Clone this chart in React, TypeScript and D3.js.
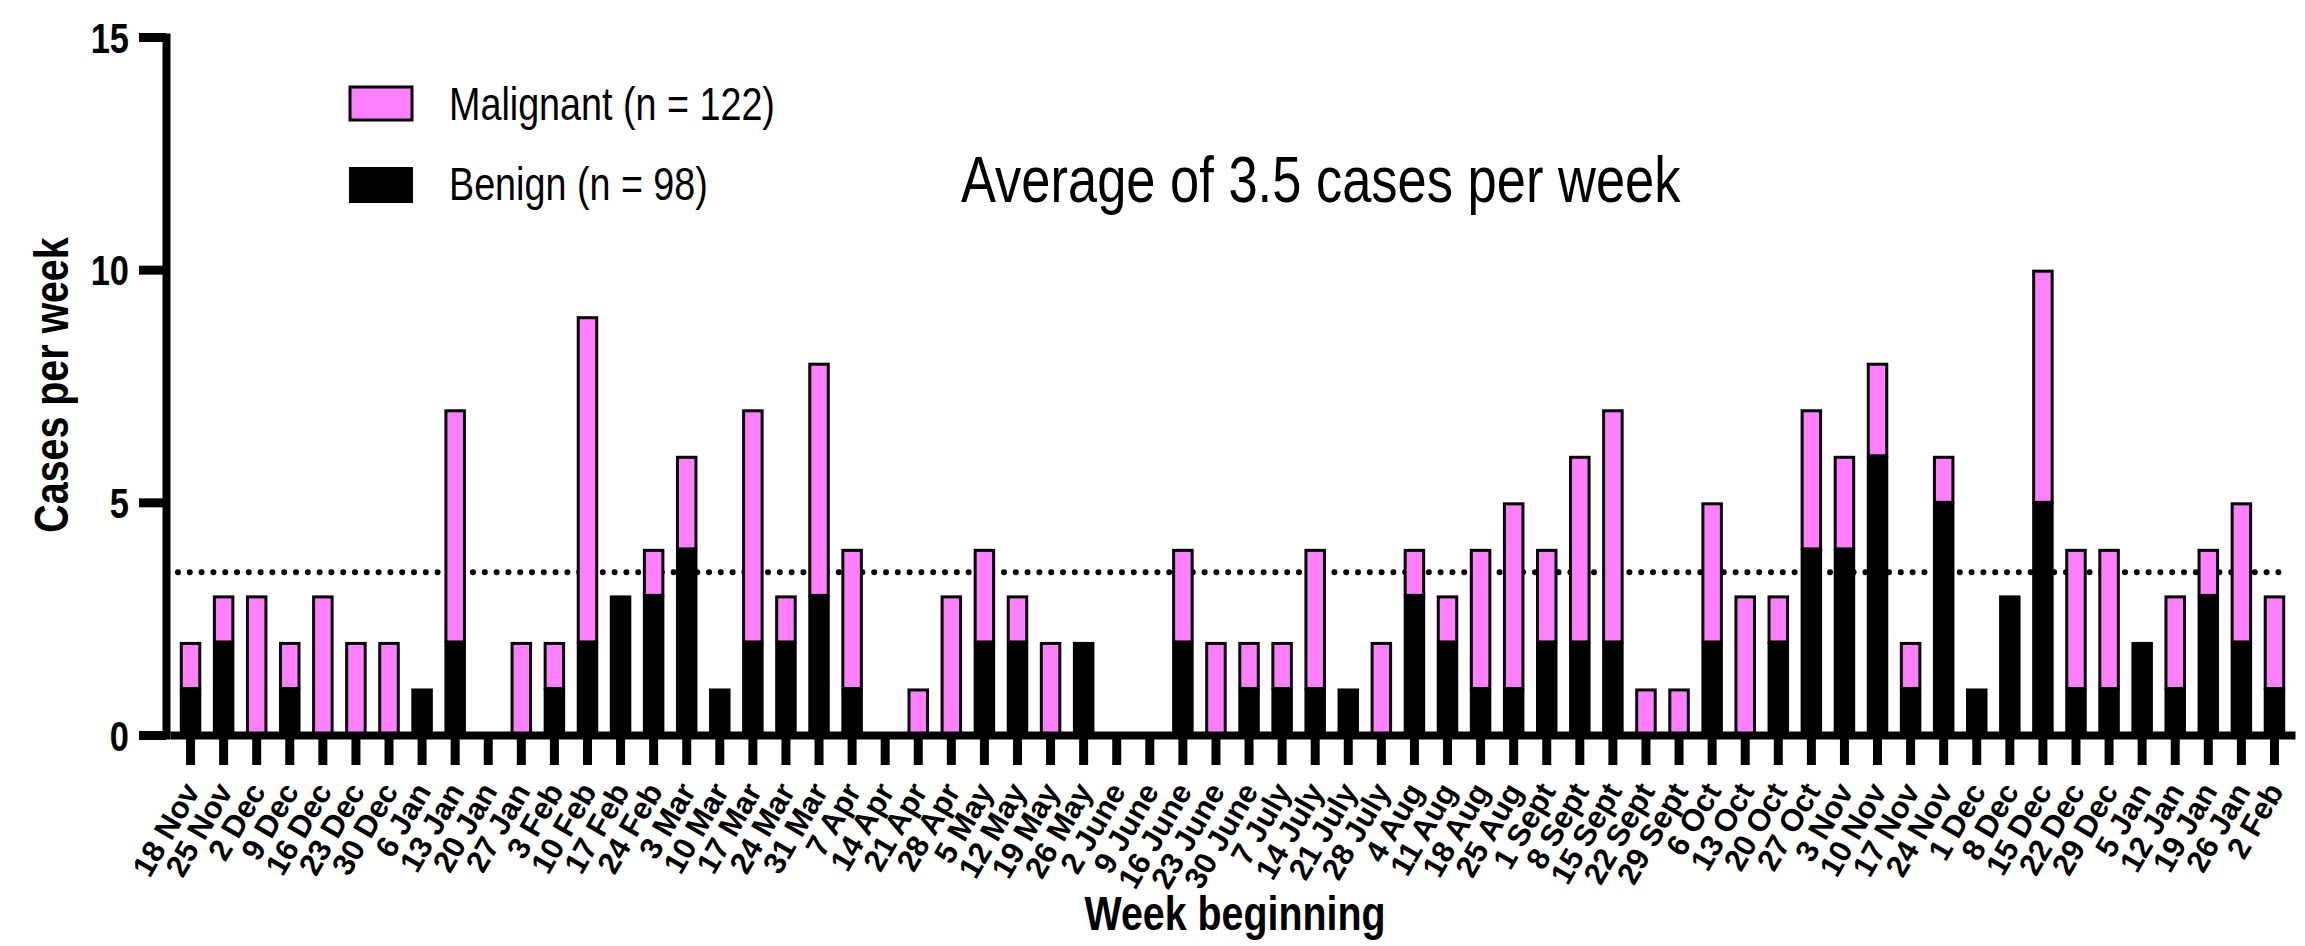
import React, { useRef, useEffect } from "react";
import * as d3 from "d3";

const weeks = [
  "18 Nov", "25 Nov", "2 Dec", "9 Dec", "16 Dec", "23 Dec", "30 Dec", "6 Jan", "13 Jan", "20 Jan",
  "27 Jan", "3 Feb", "10 Feb", "17 Feb", "24 Feb", "3 Mar", "10 Mar", "17 Mar", "24 Mar", "31 Mar",
  "7 Apr", "14 Apr", "21 Apr", "28 Apr", "5 May", "12 May", "19 May", "26 May", "2 June", "9 June",
  "16 June", "23 June", "30 June", "7 July", "14 July", "21 July", "28 July", "4 Aug", "11 Aug", "18 Aug",
  "25 Aug", "1 Sept", "8 Sept", "15 Sept", "22 Sept", "29 Sept", "6 Oct", "13 Oct", "20 Oct", "27 Oct",
  "3 Nov", "10 Nov", "17 Nov", "24 Nov", "1 Dec", "8 Dec", "15 Dec", "22 Dec", "29 Dec", "5 Jan",
  "12 Jan", "19 Jan", "26 Jan", "2 Feb",
];

const benign = [
  1, 2, 0, 1, 0, 0, 0, 1, 2, 0,
  0, 1, 2, 3, 3, 4, 1, 2, 2, 3,
  1, 0, 0, 0, 2, 2, 0, 2, 0, 0,
  2, 0, 1, 1, 1, 1, 0, 3, 2, 1,
  1, 2, 2, 2, 0, 0, 2, 0, 2, 4,
  4, 6, 1, 5, 1, 3, 5, 1, 1, 2,
  1, 3, 2, 1,
];

const malignant = [
  1, 1, 3, 1, 3, 2, 2, 0, 5, 0,
  2, 1, 7, 0, 1, 2, 0, 5, 1, 5,
  3, 0, 1, 3, 2, 1, 2, 0, 0, 0,
  2, 2, 1, 1, 3, 0, 2, 1, 1, 3,
  4, 2, 4, 5, 1, 1, 3, 3, 1, 3,
  2, 2, 1, 1, 0, 0, 5, 3, 3, 0,
  2, 1, 3, 2,
];

const yTicks = [0, 5, 10, 15];
const average = 3.5;
const legendLabels = ["Malignant (n = 122)", "Benign (n = 98)"];

const PINK = "#ff80ff";
const FONT = "'Liberation Sans', Arial, sans-serif";
// no condensed face installed, so squeeze Liberation Sans horizontally
const NARROW = 0.82;

const App = () => {
  const svgRef = useRef(null);

  useEffect(() => {
    const svg = d3.select(svgRef.current);
    svg.selectAll("*").remove();

    const x = d3
      .scaleBand()
      .domain(weeks)
      .range([174, 2291])
      .paddingInner(0.35)
      .paddingOuter(0.175);

    const y = d3.scaleLinear().domain([0, 15]).range([735, 37]);

    // dotted average line, sits behind the bars
    svg
      .append("line")
      .attr("x1", 178)
      .attr("x2", 2290)
      .attr("y1", y(average))
      .attr("y2", y(average))
      .attr("stroke", "#000")
      .attr("stroke-width", 6)
      .attr("stroke-linecap", "round")
      .attr("stroke-dasharray", "0 11.8");

    const rows = weeks.map((w, i) => ({ w, b: benign[i], m: malignant[i] }));

    // benign (bottom of stack)
    svg
      .append("g")
      .selectAll("rect")
      .data(rows.filter((d) => d.b > 0))
      .join("rect")
      .attr("x", (d) => x(d.w))
      .attr("width", x.bandwidth())
      .attr("y", (d) => y(d.b))
      .attr("height", (d) => y(0) - y(d.b))
      .attr("fill", "#000");

    // malignant on top
    svg
      .append("g")
      .selectAll("rect")
      .data(rows.filter((d) => d.m > 0))
      .join("rect")
      .attr("x", (d) => x(d.w) + 1.5)
      .attr("width", x.bandwidth() - 3)
      .attr("y", (d) => y(d.b + d.m) + 1.5)
      .attr("height", (d) => y(d.b) - y(d.b + d.m) - 1.5)
      .attr("fill", PINK)
      .attr("stroke", "#000")
      .attr("stroke-width", 3);

    // y axis
    const gy = svg
      .append("g")
      .attr("transform", "translate(166,0)")
      .call(d3.axisLeft(y).tickValues(yTicks).tickSize(27).tickSizeOuter(0));
    gy.select(".domain").attr("stroke-width", 8).attr("stroke-linecap", "square");
    gy.selectAll(".tick line").attr("stroke-width", 9);
    gy.selectAll(".tick text")
      .attr("x", 0)
      .attr("dy", "0.36em")
      .attr("transform", `translate(-37,0) scale(${NARROW},1)`)
      .attr("font-family", FONT)
      .attr("font-weight", "bold")
      .attr("font-size", 42)
      .attr("fill", "#000");

    // x axis
    const gx = svg
      .append("g")
      .attr("transform", `translate(0,${y(0)})`)
      .call(d3.axisBottom(x).tickSize(30).tickSizeOuter(0));
    gx.select(".domain").attr("stroke-width", 8).attr("stroke-linecap", "square");
    gx.selectAll(".tick line").attr("stroke-width", 9);
    gx.selectAll(".tick text")
      .attr("x", 0)
      .attr("y", 0)
      .attr("dy", 0)
      .attr("transform", "translate(10,56) rotate(-60)")
      .attr("text-anchor", "end")
      .attr("font-family", FONT)
      .attr("font-weight", "bold")
      .attr("font-size", 31)
      .attr("fill", "#000");

    // axis titles
    svg
      .append("text")
      .attr("transform", `translate(68,385) rotate(-90) scale(${NARROW},1)`)
      .attr("text-anchor", "middle")
      .attr("font-family", FONT)
      .attr("font-weight", "bold")
      .attr("font-size", 48)
      .text("Cases per week");

    svg
      .append("text")
      .attr("transform", `translate(1235,930) scale(${NARROW},1)`)
      .attr("text-anchor", "middle")
      .attr("font-family", FONT)
      .attr("font-weight", "bold")
      .attr("font-size", 48)
      .text("Week beginning");

    // legend
    const legend = svg.append("g");
    legend
      .append("rect")
      .attr("x", 350)
      .attr("y", 87)
      .attr("width", 62)
      .attr("height", 33)
      .attr("fill", PINK)
      .attr("stroke", "#000")
      .attr("stroke-width", 3);
    legend
      .append("rect")
      .attr("x", 349)
      .attr("y", 167)
      .attr("width", 64)
      .attr("height", 36)
      .attr("fill", "#000");
    legend
      .selectAll("text")
      .data(legendLabels)
      .join("text")
      .attr("transform", (d, i) => `translate(449,${120 + i * 80}) scale(${NARROW},1)`)
      .attr("font-family", FONT)
      .attr("font-size", 46)
      .text((d) => d);

    svg
      .append("text")
      .attr("transform", `translate(961,202) scale(${NARROW},1)`)
      .attr("font-family", FONT)
      .attr("font-size", 64)
      .text(`Average of ${average} cases per week`);
  }, []);

  return (
    <svg
      ref={svgRef}
      width={2305}
      height={946}
      style={{ position: "absolute", left: 0, top: 0, background: "#fff" }}
    ></svg>
  );
};

export default App;
